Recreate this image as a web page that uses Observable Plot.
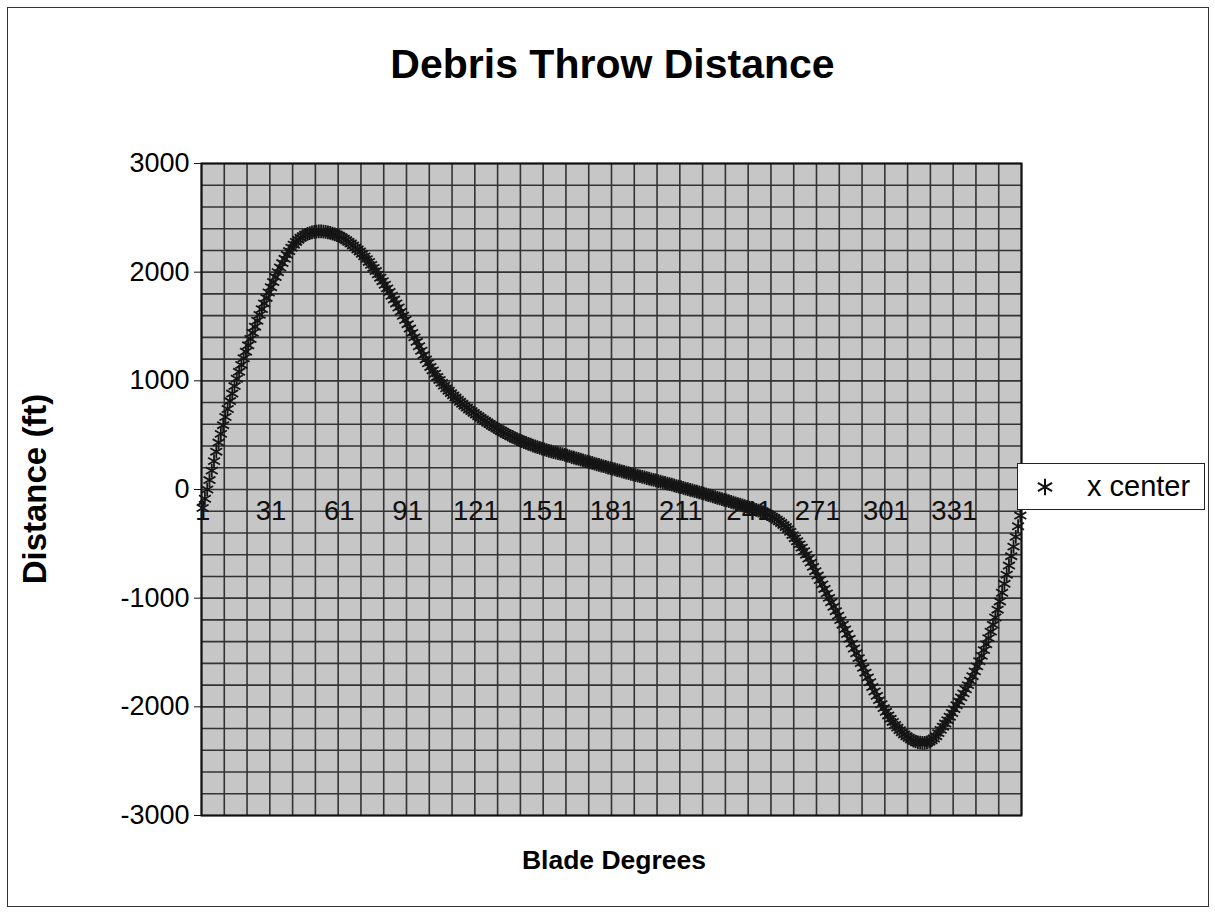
<!DOCTYPE html>
<html><head><meta charset="utf-8">
<script src="https://cdn.jsdelivr.net/npm/d3@7"></script>
<script src="https://cdn.jsdelivr.net/npm/@observablehq/plot@0.6"></script>
<style>
body{margin:0;background:#fff;font-family:Arial,"Liberation Sans",sans-serif;}
#wrap{position:relative;width:1215px;height:914px;overflow:hidden;background:#fff;}
#frame{position:absolute;left:7px;top:7px;width:1202px;height:900px;border:1.5px solid #333;box-sizing:border-box;}
#title{position:absolute;left:0;width:1225px;top:41px;text-align:center;font-weight:bold;font-size:41px;color:#000;}
#ytitle{position:absolute;left:35px;top:489px;transform:translate(-50%,-50%) rotate(-90deg);font-weight:bold;font-size:33px;white-space:nowrap;}
#xtitle{position:absolute;left:0;width:1228px;top:845px;text-align:center;font-weight:bold;font-size:26.5px;}
#legend{position:absolute;left:1017px;top:463px;width:188px;height:47px;border:1.5px solid #222;box-sizing:border-box;background:#fff;}
#legend svg{position:absolute;left:13px;top:9px;}
#legend span{position:absolute;left:69px;top:6px;font-size:29px;}
#chart{position:absolute;left:0;top:0;}
</style></head>
<body><div id="wrap"><div id="chart"></div><div id="frame"></div>
<div id="title">Debris Throw Distance</div>
<div id="ytitle">Distance (ft)</div>
<div id="xtitle">Blade Degrees</div>
<div id="legend"><svg width="28" height="28" viewBox="-14 -14 28 28"><path id="lsym" fill="none" stroke="#111" stroke-width="2"></path></svg><span>x center</span></div>
</div>
<script>
const seriesName = "x center";
const degrees = d3.range(1, 361);
const xCenter = [
-170,-85,0,87,174,261,348,432,512,592,
667,741,814,883,952,1019,1083,1146,1208,1268,
1327,1385,1442,1498,1553,1607,1660,1712,1763,1813,
1862,1909,1955,2000,2043,2084,2123,2160,2194,2225,
2253,2278,2299,2317,2332,2344,2353,2360,2366,2370,
2373,2375,2375,2374,2371,2367,2361,2354,2347,2340,
2331,2320,2308,2294,2279,2263,2246,2228,2209,2190,
2168,2145,2120,2094,2067,2039,2010,1980,1949,1917,
1884,1851,1817,1783,1748,1712,1675,1637,1599,1560,
1521,1481,1441,1400,1359,1318,1277,1237,1197,1162,
1128,1096,1065,1036,1008,981,956,932,909,887,
866,846,826,807,789,771,754,737,721,705,
689,674,659,644,630,616,602,589,576,563,
551,539,527,516,505,494,484,474,464,455,
446,437,428,420,412,404,396,389,382,376,
369,363,356,350,345,340,335,330,325,318,
312,306,299,293,287,281,274,268,262,256,
250,244,238,232,226,220,214,208,202,196,
190,185,179,173,167,162,156,150,144,139,
133,128,122,117,111,105,100,94,88,83,
77,72,66,60,55,49,44,38,32,27,
21,15,9,3,-3,-9,-14,-20,-26,-32,
-38,-45,-51,-57,-63,-70,-76,-82,-88,-95,
-101,-108,-114,-121,-127,-134,-140,-147,-153,-160,
-166,-173,-180,-187,-194,-201,-208,-217,-227,-238,
-250,-263,-277,-292,-308,-326,-345,-366,-390,-420,
-448,-476,-505,-535,-567,-600,-636,-673,-712,-752,
-792,-833,-874,-915,-956,-997,-1038,-1079,-1120,-1161,
-1202,-1244,-1287,-1330,-1374,-1418,-1463,-1507,-1552,-1597,
-1641,-1686,-1730,-1774,-1818,-1859,-1899,-1938,-1976,-2012,
-2046,-2079,-2110,-2139,-2166,-2191,-2214,-2235,-2254,-2271,
-2286,-2299,-2310,-2319,-2326,-2330,-2332,-2331,-2327,-2320,
-2309,-2292,-2270,-2242,-2212,-2183,-2154,-2123,-2091,-2057,
-2021,-1985,-1949,-1913,-1876,-1839,-1800,-1760,-1718,-1674,
-1628,-1580,-1530,-1478,-1424,-1368,-1308,-1245,-1178,-1106,
-1030,-950,-868,-784,-700,-614,-526,-436,-338,-240
];
const xTickLabels = ["1","31","61","91","121","151","181","211","241","271","301","331"];
const yTicks = [-3000,-2000,-1000,0,1000,2000,3000];
const yGrid = d3.range(-3000, 3001, 200);
const xGrid = d3.range(0.5, 361, 10);

const rows = degrees.map((d, i) => ({deg: d, v: xCenter[i]}));

const chart = Plot.plot({
  width: 1215, height: 914,
  marginLeft: 201, marginRight: 194, marginTop: 163, marginBottom: 99,
  style: {fontFamily: "Arial, 'Liberation Sans', sans-serif", background: "transparent"},
  x: {domain: [0.5, 360.5], axis: null},
  y: {domain: [-3000, 3000], axis: null},
  marks: [
    Plot.frame({fill: "#c6c6c6", stroke: null}),
    Plot.ruleY(yGrid, {stroke: "#333", strokeWidth: 1.6}),
    Plot.ruleX(xGrid, {stroke: "#333", strokeWidth: 1.6}),
    Plot.frame({stroke: "#111", strokeWidth: 2}),
    Plot.axisY({ticks: yTicks, tickSize: 7, tickPadding: 5, fontSize: 27, tickFormat: d => String(d), stroke: "#111", fill: "#000", label: null}),
    Plot.text(xTickLabels, {x: d => +d, y: 0, dy: 22, text: d => d, fontSize: 27.5, fill: "#111"}),
    Plot.dot(rows, {x: "deg", y: "v", symbol: "asterisk", r: 6.5, stroke: "#151515", strokeWidth: 1.8})
  ]
});
document.getElementById("chart").appendChild(chart);
document.getElementById("lsym").setAttribute("d", d3.symbol(d3.symbolAsterisk, 190)());
</script>
</body></html>
